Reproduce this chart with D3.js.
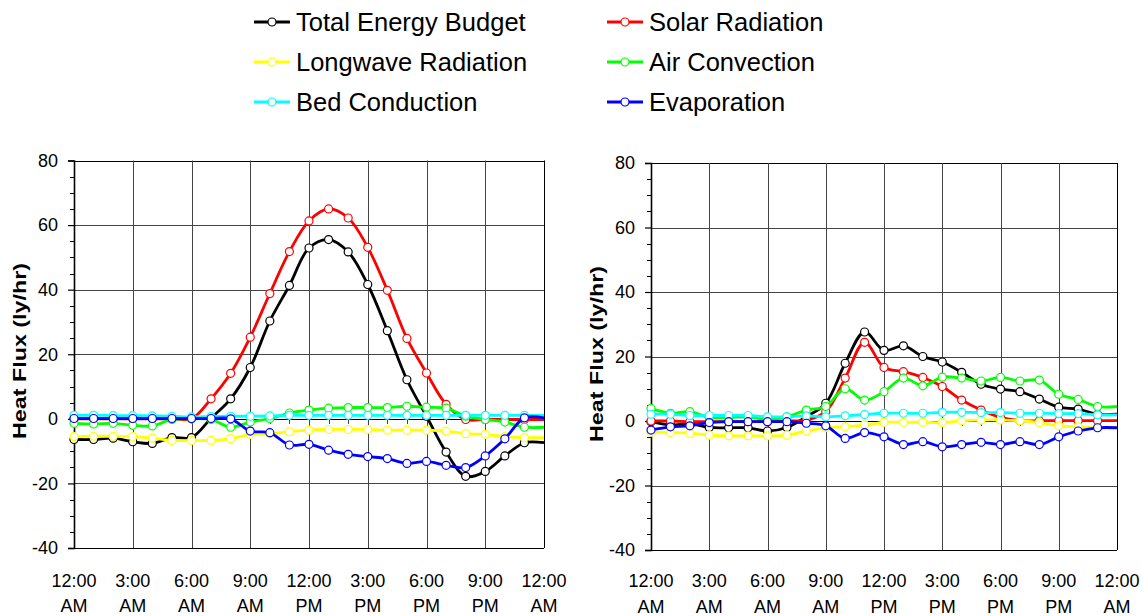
<!DOCTYPE html>
<html>
<head>
<meta charset="utf-8">
<script src="https://cdn.jsdelivr.net/npm/d3@7"></script>
<style>
  html, body { margin: 0; padding: 0; background: #fff; }
  svg { display: block; font-family: "Liberation Sans", Arial, sans-serif; }
</style>
</head>
<body>
<svg id="chart" width="1143" height="616"></svg>
<script>
// ---------------- DATA ----------------
const hours = d3.range(0, 25);   // 0..24 (hour of day)
const seriesNames = ["Total Energy Budget", "Solar Radiation", "Longwave Radiation",
                     "Air Convection", "Bed Conduction", "Evaporation"];
const seriesColors = ["#000000", "#ff0000", "#ffff00", "#00ff00", "#00ffff", "#0000ff"];

const timeLabelsTop = ["12:00", "3:00", "6:00", "9:00", "12:00", "3:00", "6:00", "9:00", "12:00"];
const timeLabelsBottom = ["AM", "AM", "AM", "AM", "PM", "PM", "PM", "PM", "AM"];
const timeTicks = [0, 3, 6, 9, 12, 15, 18, 21, 24];
const yTicks = [-40, -20, 0, 20, 40, 60, 80];
const yTitle = "Heat Flux (ly/hr)";

// Left panel
const leftTotal = [-6.4, -6.4, -6.0, -7.1, -7.6, -5.8, -5.8, 0.2, 6.2, 15.9, 30.3, 41.3, 52.9, 55.5, 51.7, 41.6, 27.3, 12.1, 0.8, -10.3, -17.8, -16.3, -11.5, -7.4, -7.4];
const leftSolar = [0, 0, 0, 0, 0, 0, 0, 6.2, 14.1, 25.3, 38.8, 51.8, 61.3, 65.0, 62.2, 53.1, 39.8, 24.9, 14.2, 4.5, -0.2, -0.2, -0.2, -0.2, -0.2];
const leftLongwave = [-5.5, -5.4, -5.4, -5.5, -6.0, -6.7, -6.7, -6.7, -6.1, -4.8, -4.6, -4.0, -3.5, -3.3, -3.3, -3.3, -3.5, -3.5, -3.5, -3.8, -4.6, -4.8, -5.5, -5.8, -5.8];
const leftAir = [-1.4, -1.6, -1.4, -2.0, -2.2, -0.2, 0, -0.2, -2.6, -1.0, 0.1, 1.8, 2.7, 3.3, 3.5, 3.5, 3.5, 3.9, 3.6, 3.3, 0.8, -0.2, -1.0, -2.6, -2.6];
const leftBed = [1.1, 1.1, 1.0, 1.0, 0.9, 0.8, 0.6, 0.7, 0.8, 0.8, 0.9, 1.1, 1.1, 1.1, 1.1, 1.1, 1.1, 1.1, 1.1, 1.1, 1.1, 1.1, 1.1, 1.1, 1.1];
const leftEvap = [0.1, 0.1, 0.1, 0.1, 0.1, 0.1, 0.1, 0.1, 0, -3.8, -4.3, -8.1, -7.9, -9.7, -11.0, -11.7, -12.3, -13.8, -13.2, -14.4, -15.1, -11.5, -6.2, 0.3, 0.3];

// Right panel
const rightTotal = [-0.2, -1.2, -0.9, -2.0, -2.1, -2.1, -3.1, -2.0, 1.3, 5.5, 17.9, 27.6, 21.9, 23.3, 20.0, 18.3, 15.1, 11.4, 9.9, 9.1, 6.8, 4.3, 3.7, 2.1, 2.1];
const rightSolar = [0, 0, -0.2, -0.2, -0.2, -0.2, -0.2, 0, 0.3, 2.9, 13.3, 24.4, 16.6, 15.3, 13.5, 10.7, 6.5, 3.4, 1.1, 0.1, 0.1, 0.1, 0.1, 0.1, 0.1];
const rightLongwave = [-3.5, -3.6, -3.8, -4.4, -4.6, -4.6, -4.6, -4.4, -3.1, -2.1, -1.8, -1.2, -0.4, -0.4, -0.4, -0.5, 0.1, 0.3, 0.3, 0.1, -0.5, -1.5, -1.8, -2.1, -2.1];
const rightAir = [3.9, 2.4, 2.9, 1.1, 1.1, 1.3, 0.5, 1.3, 3.4, 4.5, 10.0, 6.5, 9.1, 13.3, 10.9, 13.6, 13.3, 12.4, 13.5, 12.4, 12.7, 8.3, 6.7, 4.5, 4.5];
const rightBed = [2.1, 2.1, 1.7, 1.7, 1.7, 1.7, 1.3, 1.3, 1.6, 1.3, 1.6, 2.0, 2.4, 2.4, 2.4, 2.7, 2.7, 2.6, 2.6, 2.4, 2.4, 2.3, 2.3, 1.9, 1.9];
const rightEvap = [-2.8, -1.8, -1.5, -0.5, -0.2, -0.2, -0.2, -0.2, -0.7, -1.5, -5.4, -3.6, -4.9, -7.3, -6.4, -8.0, -7.3, -6.6, -7.3, -6.4, -7.3, -4.9, -3.1, -2.1, -2.1];

const leftSeries = [leftTotal, leftSolar, leftLongwave, leftAir, leftBed, leftEvap];
const rightSeries = [rightTotal, rightSolar, rightLongwave, rightAir, rightBed, rightEvap];

// ---------------- DRAWING ----------------
const svg = d3.select("#chart");

function drawPanel(layout, seriesList) {
  const x = d3.scaleLinear().domain([0, 24]).range([layout.x0, layout.x1]);
  const y = d3.scaleLinear().domain([-40, 80]).range([layout.yBot, layout.yTop]);
  const g = svg.append("g");

  // horizontal gridlines
  g.selectAll("line.hgrid").data(yTicks).join("line")
    .attr("x1", layout.x0).attr("x2", layout.x1)
    .attr("y1", d => Math.round(y(d)) + 0.5).attr("y2", d => Math.round(y(d)) + 0.5)
    .attr("stroke", d => (d === 0 || d === 80 || d === -40) ? "#000" : "#444")
    .attr("stroke-width", 1);

  // vertical gridlines (incl. right border)
  g.selectAll("line.vgrid").data(timeTicks.slice(1)).join("line")
    .attr("x1", d => Math.round(x(d)) + 0.5).attr("x2", d => Math.round(x(d)) + 0.5)
    .attr("y1", layout.yTop).attr("y2", layout.yBot)
    .attr("stroke", d => d === 24 ? "#000" : "#444")
    .attr("stroke-width", 1);

  // hourly tick marks on zero line
  g.selectAll("line.htick").data(hours.slice(1, 24)).join("line")
    .attr("x1", d => Math.round(x(d)) + 0.5).attr("x2", d => Math.round(x(d)) + 0.5)
    .attr("y1", Math.round(y(0))).attr("y2", Math.round(y(0)) + 5)
    .attr("stroke", "#444").attr("stroke-width", 1);

  // y axis
  const yAxis = d3.axisLeft(y).tickValues(yTicks).tickSize(6).tickPadding(10)
    .tickFormat(d => String(d));
  const ya = g.append("g").attr("transform", `translate(${layout.x0},0)`).call(yAxis);
  ya.select(".domain").attr("stroke", "#000").attr("stroke-width", 1.6);
  ya.selectAll(".tick line").attr("stroke", "#000").attr("stroke-width", 1.2);
  ya.selectAll(".tick text").attr("font-size", 18).attr("fill", "#000")
    .attr("font-family", "'Liberation Sans', Arial, sans-serif");
  // minor y ticks every 5
  const minor = d3.range(-40, 81, 5).filter(v => v % 20 !== 0);
  g.selectAll("line.ymin").data(minor).join("line")
    .attr("x1", layout.x0 - 4).attr("x2", layout.x0)
    .attr("y1", d => Math.round(y(d)) + 0.5).attr("y2", d => Math.round(y(d)) + 0.5)
    .attr("stroke", "#000").attr("stroke-width", 1);

  // x labels (two lines)
  const xl = g.selectAll("text.xl").data(timeTicks).join("text")
    .attr("x", d => x(d)).attr("text-anchor", "middle")
    .attr("font-size", 18).attr("fill", "#000");
  xl.append("tspan").attr("x", d => x(d)).attr("y", layout.labY1)
    .text((d, i) => timeLabelsTop[i]);
  xl.append("tspan").attr("x", d => x(d)).attr("y", layout.labY2)
    .text((d, i) => timeLabelsBottom[i]);

  // y title
  g.append("text")
    .attr("transform", `translate(${layout.titleX},${layout.titleY}) rotate(-90)`)
    .attr("text-anchor", "middle").attr("font-size", 19).attr("font-weight", "bold")
    .attr("textLength", 176).attr("lengthAdjust", "spacingAndGlyphs")
    .text(yTitle);

  // series
  const line = d3.line().x((d, i) => x(hours[i])).y(d => y(d))
    .curve(d3.curveCatmullRom.alpha(0.5));
  seriesList.forEach((vals, si) => {
    const sg = g.append("g");
    sg.append("path").datum(vals)
      .attr("d", line).attr("fill", "none")
      .attr("stroke", seriesColors[si]).attr("stroke-width", 2.8)
      .attr("stroke-linejoin", "round");
    sg.selectAll("circle").data(vals.slice(0, 24)).join("circle")
      .attr("cx", (d, i) => x(hours[i])).attr("cy", d => y(d)).attr("r", 4)
      .attr("fill", "#fff").attr("stroke", seriesColors[si]).attr("stroke-width", 1.2);
  });
}

drawPanel({x0: 74, x1: 544, yTop: 160.5, yBot: 548, labY1: 587, labY2: 612, titleX: 26, titleY: 351}, leftSeries);
drawPanel({x0: 651, x1: 1117, yTop: 163, yBot: 550, labY1: 587, labY2: 613, titleX: 603, titleY: 354}, rightSeries);

// legend
const legCols = [254, 607];
const legRows = [22, 62, 102];
const leg = svg.append("g");
seriesNames.forEach((name, i) => {
  const lx = legCols[i % 2], ly = legRows[Math.floor(i / 2)];
  leg.append("line").attr("x1", lx).attr("x2", lx + 36).attr("y1", ly).attr("y2", ly)
    .attr("stroke", seriesColors[i]).attr("stroke-width", 2.8);
  leg.append("circle").attr("cx", lx + 18).attr("cy", ly).attr("r", 4)
    .attr("fill", "#fff").attr("stroke", seriesColors[i]).attr("stroke-width", 1.2);
  leg.append("text").attr("x", lx + 42).attr("y", ly).attr("dy", "0.36em")
    .attr("font-size", 25.5).attr("fill", "#000").text(name);
});
</script>
</body>
</html>
